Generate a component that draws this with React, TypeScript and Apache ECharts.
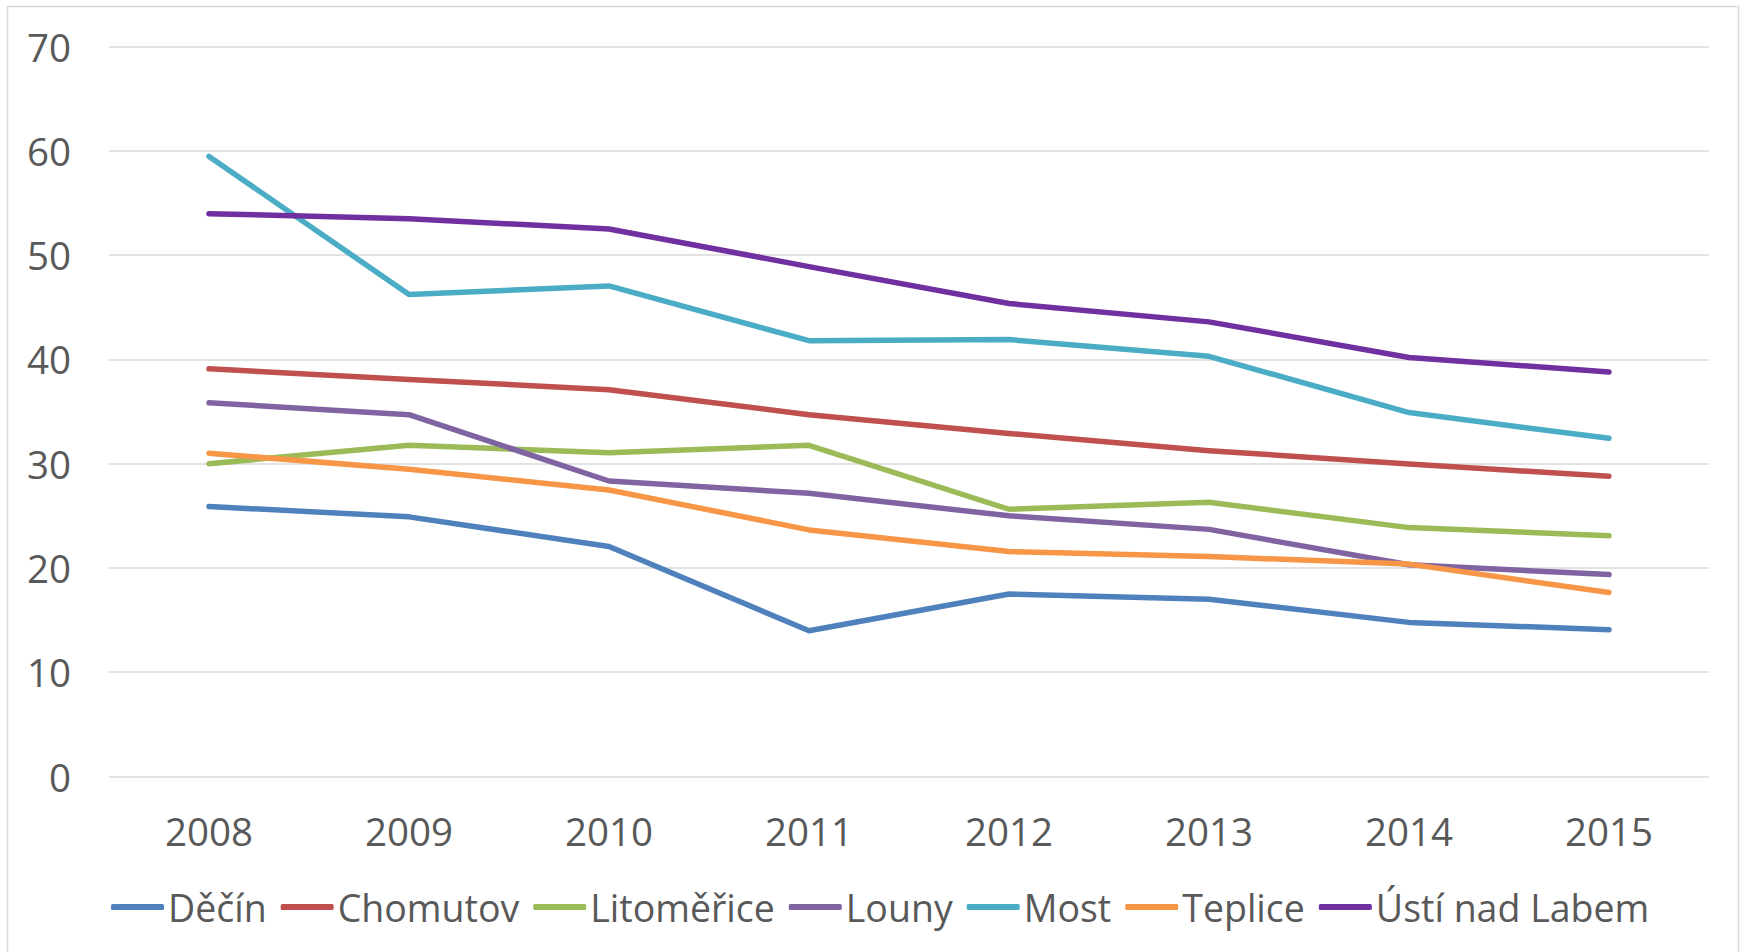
import React, { useEffect, useRef } from "react";
import * as echarts from "echarts";

const years = ["2008", "2009", "2010", "2011", "2012", "2013", "2014", "2015"];
const decin = [25.9, 24.9, 22.05, 13.98, 17.5, 17.0, 14.78, 14.08];
const chomutov = [39.1, 38.08, 37.1, 34.7, 32.9, 31.25, 29.97, 28.8];
const litomerice = [30.0, 31.76, 31.06, 31.76, 25.63, 26.3, 23.87, 23.1];
const louny = [35.84, 34.7, 28.34, 27.16, 25.0, 23.7, 20.3, 19.37];
const most = [59.47, 46.22, 47.05, 41.8, 41.9, 40.3, 34.9, 32.43];
const teplice = [31.0, 29.46, 27.48, 23.65, 21.57, 21.1, 20.37, 17.65];
const usti = [53.98, 53.5, 52.5, 48.9, 45.36, 43.6, 40.19, 38.8];

const seriesNames = ["Děčín", "Chomutov", "Litoměřice", "Louny", "Most", "Teplice", "Ústí nad Labem"];
const seriesData = [decin, chomutov, litomerice, louny, most, teplice, usti];
const colors = ["#4F81BD", "#C0504D", "#9BBB59", "#8064A2", "#4BACC6", "#F79646", "#7030A0"];

const FONT = "'Open Sans', 'Noto Sans', sans-serif";
const TEXT = "#595959";

export default function App() {
  const ref = useRef<HTMLDivElement>(null);
  useEffect(() => {
    if (!ref.current) return;
    const chart = echarts.init(ref.current, null, { renderer: "svg" });
    chart.setOption({
      animation: false,
      color: colors,
      backgroundColor: "#ffffff",
      grid: { left: 109, right: 32, top: 46.6, bottom: 175.5, containLabel: false },
      graphic: [
        {
          type: "rect",
          shape: { x: 7.5, y: 6.5, width: 1731, height: 970 },
          style: { fill: "none", stroke: "#d9d9d9", lineWidth: 1.5 },
          silent: true,
        },
      ],
      xAxis: {
        type: "category",
        data: years,
        boundaryGap: true,
        axisLine: { show: false },
        axisTick: { show: false },
        axisLabel: {
          color: TEXT,
          fontFamily: FONT,
          fontSize: 38.5,
          margin: 33,
          lineHeight: 42,
        },
        splitLine: { show: false },
      },
      yAxis: {
        type: "value",
        min: 0,
        max: 70,
        interval: 10,
        axisLine: { show: false },
        axisTick: { show: false },
        axisLabel: {
          color: TEXT,
          fontFamily: FONT,
          fontSize: 38.5,
          margin: 38,
        },
        splitLine: { lineStyle: { color: "#d9d9d9", width: 1.5 } },
      },
      legend: {
        left: 111,
        top: 884,
        padding: 0,
        itemGap: 14,
        itemWidth: 53,
        itemHeight: 6,
        icon: "roundRect",
        textStyle: {
          color: TEXT,
          fontFamily: FONT,
          fontSize: 37.5,
          lineHeight: 46,
          padding: [0, 0, 0, -1],
        },
        data: seriesNames,
      },
      series: seriesNames.map((name, i) => ({
        name,
        type: "line",
        data: seriesData[i],
        showSymbol: false,
        symbol: "none",
        lineStyle: { width: 5.5, color: colors[i], cap: "round", join: "round" },
        itemStyle: { color: colors[i] },
      })),
    });
    return () => chart.dispose();
  }, []);
  return (
    <div
      ref={ref}
      style={{ position: "fixed", left: 0, top: 0, width: 1741, height: 952 }}
    />
  );
}
